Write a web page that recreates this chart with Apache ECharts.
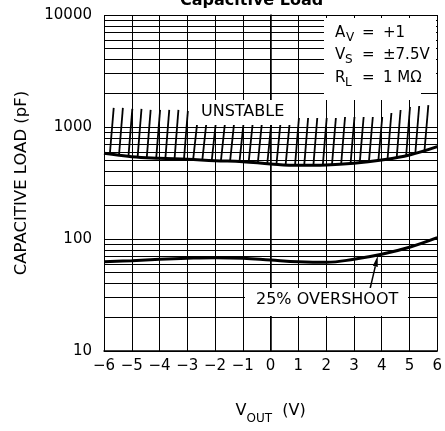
<!DOCTYPE html>
<html>
<head>
<meta charset="utf-8">
<script src="https://cdn.jsdelivr.net/npm/echarts@6/dist/echarts.min.js"></script>
<style>
  html, body { margin: 0; padding: 0; background: #fff; }
  #chart { width: 445px; height: 431px; }
</style>
</head>
<body>
<div id="chart"></div>
<script>
// output voltage (V) where the curves were read
const vout = [-6, -5, -4, -3, -2, -1, 0, 1, 2, 3, 4, 5, 6];
// lower edge of the unstable region (pF)
const unstableEdge = [582, 543, 526, 515, 500, 490, 468, 455, 458, 474, 507, 562, 667];
// 25% overshoot curve (pF)
const overshoot25 = [62.7, 64.0, 65.9, 67.3, 68.1, 67.3, 64.9, 62.7, 61.9, 65.9, 73.0, 84.3, 102.7];
// log minor grid lines
const minorGrid = [20, 30, 40, 50, 60, 70, 80, 90,
                   200, 300, 400, 500, 600, 700, 800, 900,
                   2000, 3000, 4000, 5000, 6000, 7000, 8000, 9000];
// hatching of the unstable region: foot position, foot value, top value
const hatchX = [-5.79, -5.46, -5.12, -4.79, -4.46, -4.12, -3.79, -3.46, -3.12,
                -2.79, -2.46, -2.12, -1.79, -1.46, -1.12, -0.79, -0.46, -0.12, 0.21, 0.54,
                0.88, 1.21, 1.54, 1.88, 2.21, 2.54, 2.88, 3.21, 3.54, 3.88, 4.21, 4.54, 4.88, 5.21, 5.54];
const hatchBottom = [572, 560, 547, 538, 533, 528, 524, 520, 516,
                     512, 507, 502, 498, 495, 491, 486, 480, 472, 465, 460,
                     456, 455, 455, 457, 461, 466, 472, 480, 490, 502, 516, 533, 554, 580, 610];
const hatchTop = [1480, 1480, 1450, 1450, 1420, 1420, 1420, 1420, 1390,
                  1050, 1050, 1050, 1050, 1050, 1050, 1050, 1050, 1050, 1050, 1050,
                  1203, 1203, 1203, 1203, 1203, 1228, 1228, 1228, 1228, 1228, 1333, 1418, 1509, 1540, 1570];
const hatchLean = 0.14;
// arrow pointing at the 25% overshoot curve
const arrowFrom = [3.57, 35];
const arrowTo = [3.86, 71];

const FONT = 'DejaVu Sans';

const chart = echarts.init(document.getElementById('chart'));

const option = {
  animation: false,
  title: {
    text: 'Capacitive Load',
    left: 175,
    top: -12,
    textStyle: { fontFamily: FONT, fontWeight: 'bold', fontSize: 16, color: '#000' }
  },
  grid: { left: 104, right: 5, top: 15, bottom: 80 },
  xAxis: {
    type: 'value',
    min: -6,
    max: 6,
    interval: 1,
    name: '{v|V}{s|OUT}{v|  (V)}',
    nameLocation: 'middle',
    nameGap: 52,
    nameTextStyle: {
      rich: {
        v: { fontFamily: FONT, fontSize: 16, color: '#000', lineHeight: 18, verticalAlign: 'top' },
        s: { fontFamily: FONT, fontSize: 12, color: '#000', lineHeight: 12, verticalAlign: 'top', padding: [10, 0, 0, 0] }
      }
    },
    axisLine: { lineStyle: { color: '#000', width: 1.5 } },
    axisTick: { show: false },
    splitLine: { lineStyle: { color: '#000', width: 1 } },
    axisLabel: {
      fontFamily: FONT, fontSize: 15, color: '#000', margin: 8,
      formatter: v => (v < 0 ? '\u2212' + (-v) : String(v))
    }
  },
  yAxis: {
    type: 'log',
    logBase: 10,
    min: 10,
    max: 10000,
    name: 'CAPACITIVE LOAD (pF)',
    nameLocation: 'middle',
    nameGap: 74,
    nameTextStyle: { fontFamily: FONT, fontSize: 16.5, color: '#000' },
    axisLine: { show: true, lineStyle: { color: '#000', width: 1.5 } },
    axisTick: { show: false },
    splitLine: { lineStyle: { color: '#000', width: 1 } },
    axisLabel: { fontFamily: FONT, fontSize: 15, color: '#000', margin: 12, formatter: v => String(v) }
  },
  series: [
    {
      name: 'unstable edge',
      type: 'line',
      smooth: 0.4,
      showSymbol: false,
      data: vout.map((v, i) => [v, unstableEdge[i]]),
      lineStyle: { color: '#000', width: 3 },
      z: 5,
      markLine: {
        silent: true,
        symbol: 'none',
        label: { show: false },
        lineStyle: { color: '#000', width: 1, type: 'solid' },
        data: minorGrid.map(v => ({ yAxis: v }))
      }
    },
    {
      name: '25% overshoot',
      type: 'line',
      smooth: 0.4,
      showSymbol: false,
      data: vout.map((v, i) => [v, overshoot25[i]]),
      lineStyle: { color: '#000', width: 3 },
      z: 5
    },
    {
      name: 'hatch',
      type: 'custom',
      data: hatchX.map((x, i) => [x, hatchBottom[i], x + hatchLean, hatchTop[i]]),
      encode: { x: [0, 2], y: [1, 3] },
      z: 4,
      renderItem: (params, api) => {
        const p0 = api.coord([api.value(0), api.value(1)]);
        const p1 = api.coord([api.value(2), api.value(3)]);
        return {
          type: 'line',
          shape: { x1: p0[0], y1: p0[1], x2: p1[0], y2: p1[1] },
          style: { stroke: '#000', lineWidth: 1.8 }
        };
      }
    },
    {
      name: 'arrow',
      type: 'custom',
      data: [[arrowFrom[0], arrowFrom[1], arrowTo[0], arrowTo[1]]],
      encode: { x: [0, 2], y: [1, 3] },
      z: 6,
      renderItem: (params, api) => {
        const a = api.coord([api.value(0), api.value(1)]);
        const b = api.coord([api.value(2), api.value(3)]);
        const dx = b[0] - a[0], dy = b[1] - a[1];
        const len = Math.sqrt(dx * dx + dy * dy);
        const ux = dx / len, uy = dy / len;
        const hl = 11, hw = 2.5;
        const bx = b[0] - ux * hl, by = b[1] - uy * hl;
        return {
          type: 'group',
          children: [
            { type: 'line', shape: { x1: a[0], y1: a[1], x2: bx, y2: by }, style: { stroke: '#000', lineWidth: 1.5 } },
            {
              type: 'polygon',
              shape: { points: [[b[0], b[1]], [bx - uy * hw, by + ux * hw], [bx + uy * hw, by - ux * hw]] },
              style: { fill: '#000' }
            }
          ]
        };
      }
    }
  ],
  graphic: [
    // conditions box
    { type: 'rect', z: 100, shape: { x: 324, y: 18, width: 112, height: 74 }, style: { fill: '#fff' } },
    { type: 'rect', z: 100, shape: { x: 324, y: 90, width: 97, height: 10 }, style: { fill: '#fff' } },
    { type: 'text', z: 101, left: 335, top: 26, style: { text: 'A', font: '15px ' + FONT, fill: '#000' } },
    { type: 'text', z: 101, left: 346, top: 32, style: { text: 'V', font: '12px ' + FONT, fill: '#000' } },
    { type: 'text', z: 101, left: 362, top: 26, style: { text: '=', font: '15px ' + FONT, fill: '#000' } },
    { type: 'text', z: 101, left: 383, top: 26, style: { text: '+1', font: '15px ' + FONT, fill: '#000' } },
    { type: 'text', z: 101, left: 335, top: 48, style: { text: 'V', font: '15px ' + FONT, fill: '#000' } },
    { type: 'text', z: 101, left: 345, top: 54, style: { text: 'S', font: '12px ' + FONT, fill: '#000' } },
    { type: 'text', z: 101, left: 362, top: 48, style: { text: '=', font: '15px ' + FONT, fill: '#000' } },
    { type: 'text', z: 101, left: 383, top: 48, style: { text: '\u00b17.5V', font: '15px ' + FONT, fill: '#000' } },
    { type: 'text', z: 101, left: 335, top: 71, style: { text: 'R', font: '15px ' + FONT, fill: '#000' } },
    { type: 'text', z: 101, left: 345, top: 77, style: { text: 'L', font: '12px ' + FONT, fill: '#000' } },
    { type: 'text', z: 101, left: 362, top: 71, style: { text: '=', font: '15px ' + FONT, fill: '#000' } },
    { type: 'text', z: 101, left: 383, top: 71, style: { text: '1 M\u03a9', font: '15px ' + FONT, fill: '#000' } },
    // UNSTABLE label
    { type: 'rect', z: 100, shape: { x: 193, y: 100, width: 104, height: 25 }, style: { fill: '#fff' } },
    { type: 'text', z: 101, left: 201, top: 104, style: { text: 'UNSTABLE', font: '16px ' + FONT, fill: '#000' } },
    // 25% OVERSHOOT label
    { type: 'rect', z: 100, shape: { x: 245, y: 288, width: 163, height: 28 }, style: { fill: '#fff' } },
    { type: 'text', z: 101, left: 256, top: 292, style: { text: '25% OVERSHOOT', font: '16px ' + FONT, fill: '#000' } }
  ]
};

chart.setOption(option);
</script>
</body>
</html>
